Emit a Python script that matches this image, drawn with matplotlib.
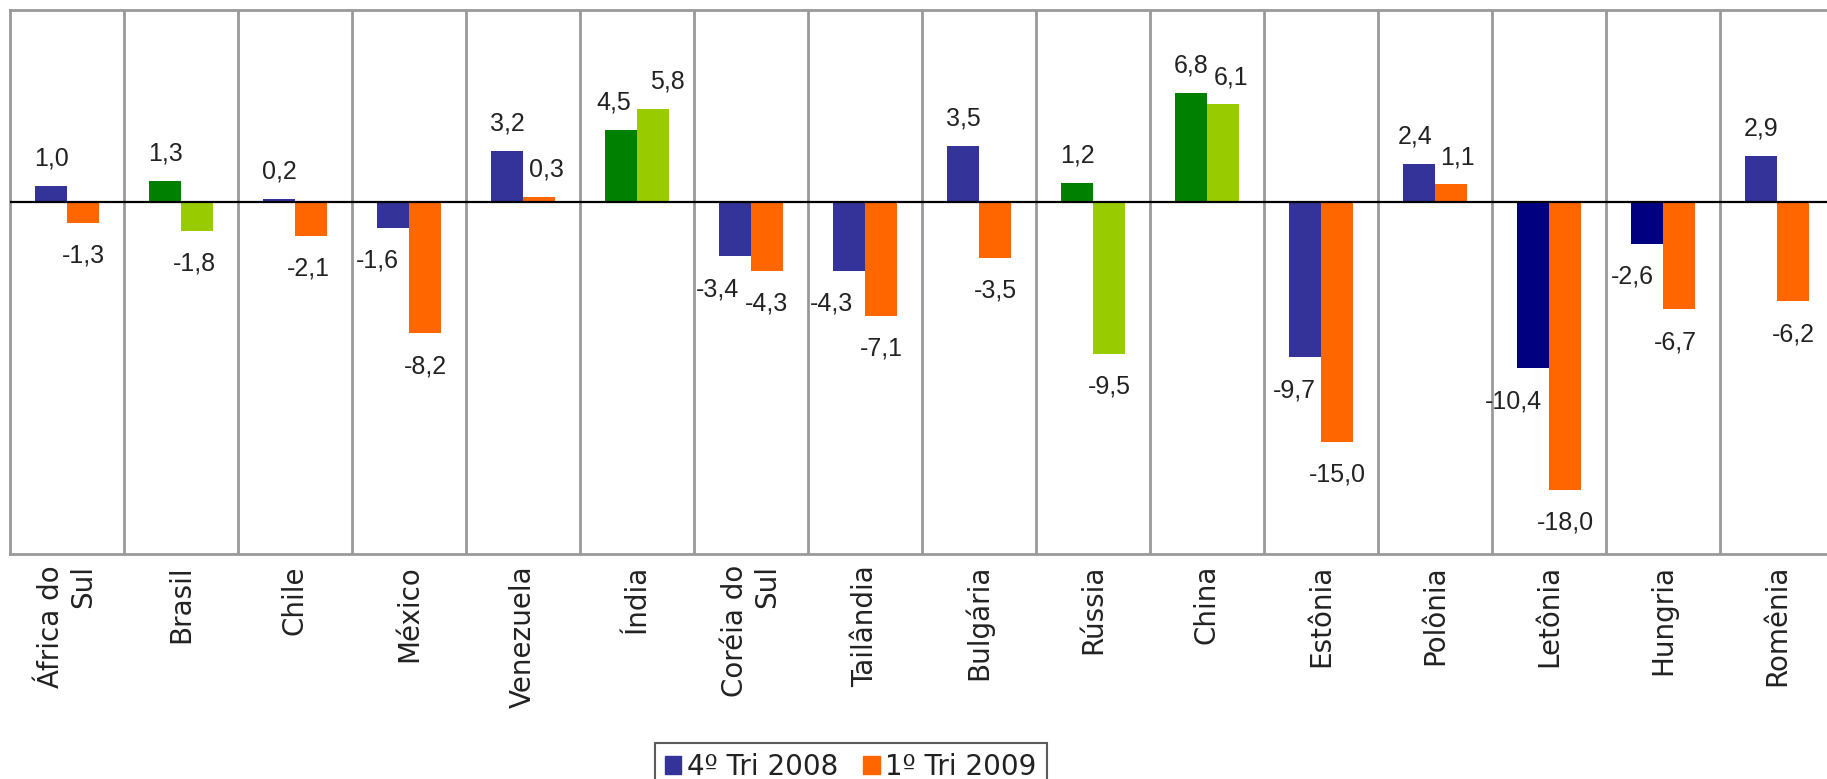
import numpy as np
import matplotlib.pyplot as plt
from matplotlib.patches import Patch

# PIB por país, variação (%) - trimestres da crise
paises = ["África do\nSul", "Brasil", "Chile", "México", "Venezuela", "Índia",
          "Coréia do\nSul", "Tailândia", "Bulgária", "Rússia", "China", "Estônia",
          "Polônia", "Letônia", "Hungria", "Romênia"]
tri4_2008 = [1.0, 1.3, 0.2, -1.6, 3.2, 4.5, -3.4, -4.3, 3.5, 1.2, 6.8, -9.7,
             2.4, -10.4, -2.6, 2.9]
tri1_2009 = [-1.3, -1.8, -2.1, -8.2, 0.3, 5.8, -4.3, -7.1, -3.5, -9.5, 6.1,
             -15.0, 1.1, -18.0, -6.7, -6.2]
series = ["4º Tri 2008", "1º Tri 2009"]

# cores por país (BRICs em verde, Letônia e Hungria em azul escuro)
AZUL, AZUL_ESC, VERDE = "#333399", "#000080", "#008000"
LARANJA, VERDE_CL = "#FF6600", "#99CC00"
brics = {"Brasil", "Índia", "Rússia", "China"}
escuros = {"Letônia", "Hungria"}

# ajustes finos na posição de alguns rótulos (px)
desloc = {("México", 0): -16, ("Venezuela", 1): 7, ("Índia", 0): -7,
          ("Índia", 1): 14, ("Coréia do\nSul", 0): -18, ("Tailândia", 0): -18,
          ("China", 1): 8, ("Estônia", 0): -11, ("Polônia", 0): -4,
          ("Polônia", 1): 6, ("Letônia", 0): -20, ("Hungria", 0): -15,
          ("Hungria", 1): -4, ("Brasil", 1): -3, ("Chile", 1): -3}


def fmt(v):
    return f"{v:.1f}".replace(".", ",")


def cores(nomes):
    c4, c1 = [], []
    for p in nomes:
        if p in brics:
            c4.append(VERDE)
            c1.append(VERDE_CL)
        else:
            c4.append(AZUL_ESC if p in escuros else AZUL)
            c1.append(LARANJA)
    return c4, c1


plt.rcParams["font.family"] = ["Liberation Sans", "DejaVu Sans"]
LARGA = ["DejaVu Sans"]

fig = plt.figure(figsize=(18.27, 7.79), dpi=100)
ax = fig.add_axes([10 / 1827, 1 - 554 / 779, 16 * 114 / 1827, 544 / 779])

x = np.arange(len(paises))
w = 0.28
c4, c1 = cores(paises)
b4 = ax.bar(x - w / 2, tri4_2008, w, color=c4, zorder=3)
b1 = ax.bar(x + w / 2, tri1_2009, w, color=c1, zorder=3)

ax.set_xlim(-0.5, len(paises) - 0.5)
ax.set_ylim(-22, 12)
ax.axhline(0, color="black", lw=1.6, zorder=4)

# separadores entre países
for xs in x[:-1] + 0.5:
    ax.axvline(xs, color="#999999", lw=2, zorder=1)
for s in ["left", "top", "bottom"]:
    ax.spines[s].set_color("#999999")
    ax.spines[s].set_linewidth(2)
ax.spines["right"].set_visible(False)

ax.set_yticks([])
ax.set_xticks(x)
ax.set_xticklabels(paises, rotation=90, fontsize=20, ma="right", color="#222222",
                   family=LARGA)
ax.tick_params(axis="x", length=0, pad=8)

# rótulos de valor
for k, (bars, vals) in enumerate([(b4, tri4_2008), (b1, tri1_2009)]):
    for p, bar, v in zip(paises, bars, vals):
        dx = desloc.get((p, k), 0) * 0.72
        cx = bar.get_x() + bar.get_width() / 2
        if v >= 0:
            ax.annotate(fmt(v), (cx, v), xytext=(dx, 11), textcoords="offset points",
                        ha="center", va="bottom", fontsize=18, color="#222222")
        else:
            ax.annotate(fmt(v), (cx, v), xytext=(dx, -15), textcoords="offset points",
                        ha="center", va="top", fontsize=18, color="#222222")

handles = [Patch(color=AZUL), Patch(color=LARANJA)]
leg = fig.legend(handles, series, loc="upper left", bbox_to_anchor=(655 / 1827, 1 - 743 / 779),
                 ncol=2, frameon=True, fancybox=False, handlelength=0.6,
                 handleheight=0.6, handletextpad=0.2, columnspacing=0.9, borderpad=0.35,
                 borderaxespad=0, prop={"family": LARGA, "size": 20})
for t in leg.get_texts():
    t.set_color("#222222")
leg.get_frame().set_edgecolor("#333333")
leg.get_frame().set_linewidth(1.5)

fig.savefig("out.png", dpi=100, facecolor="white")
